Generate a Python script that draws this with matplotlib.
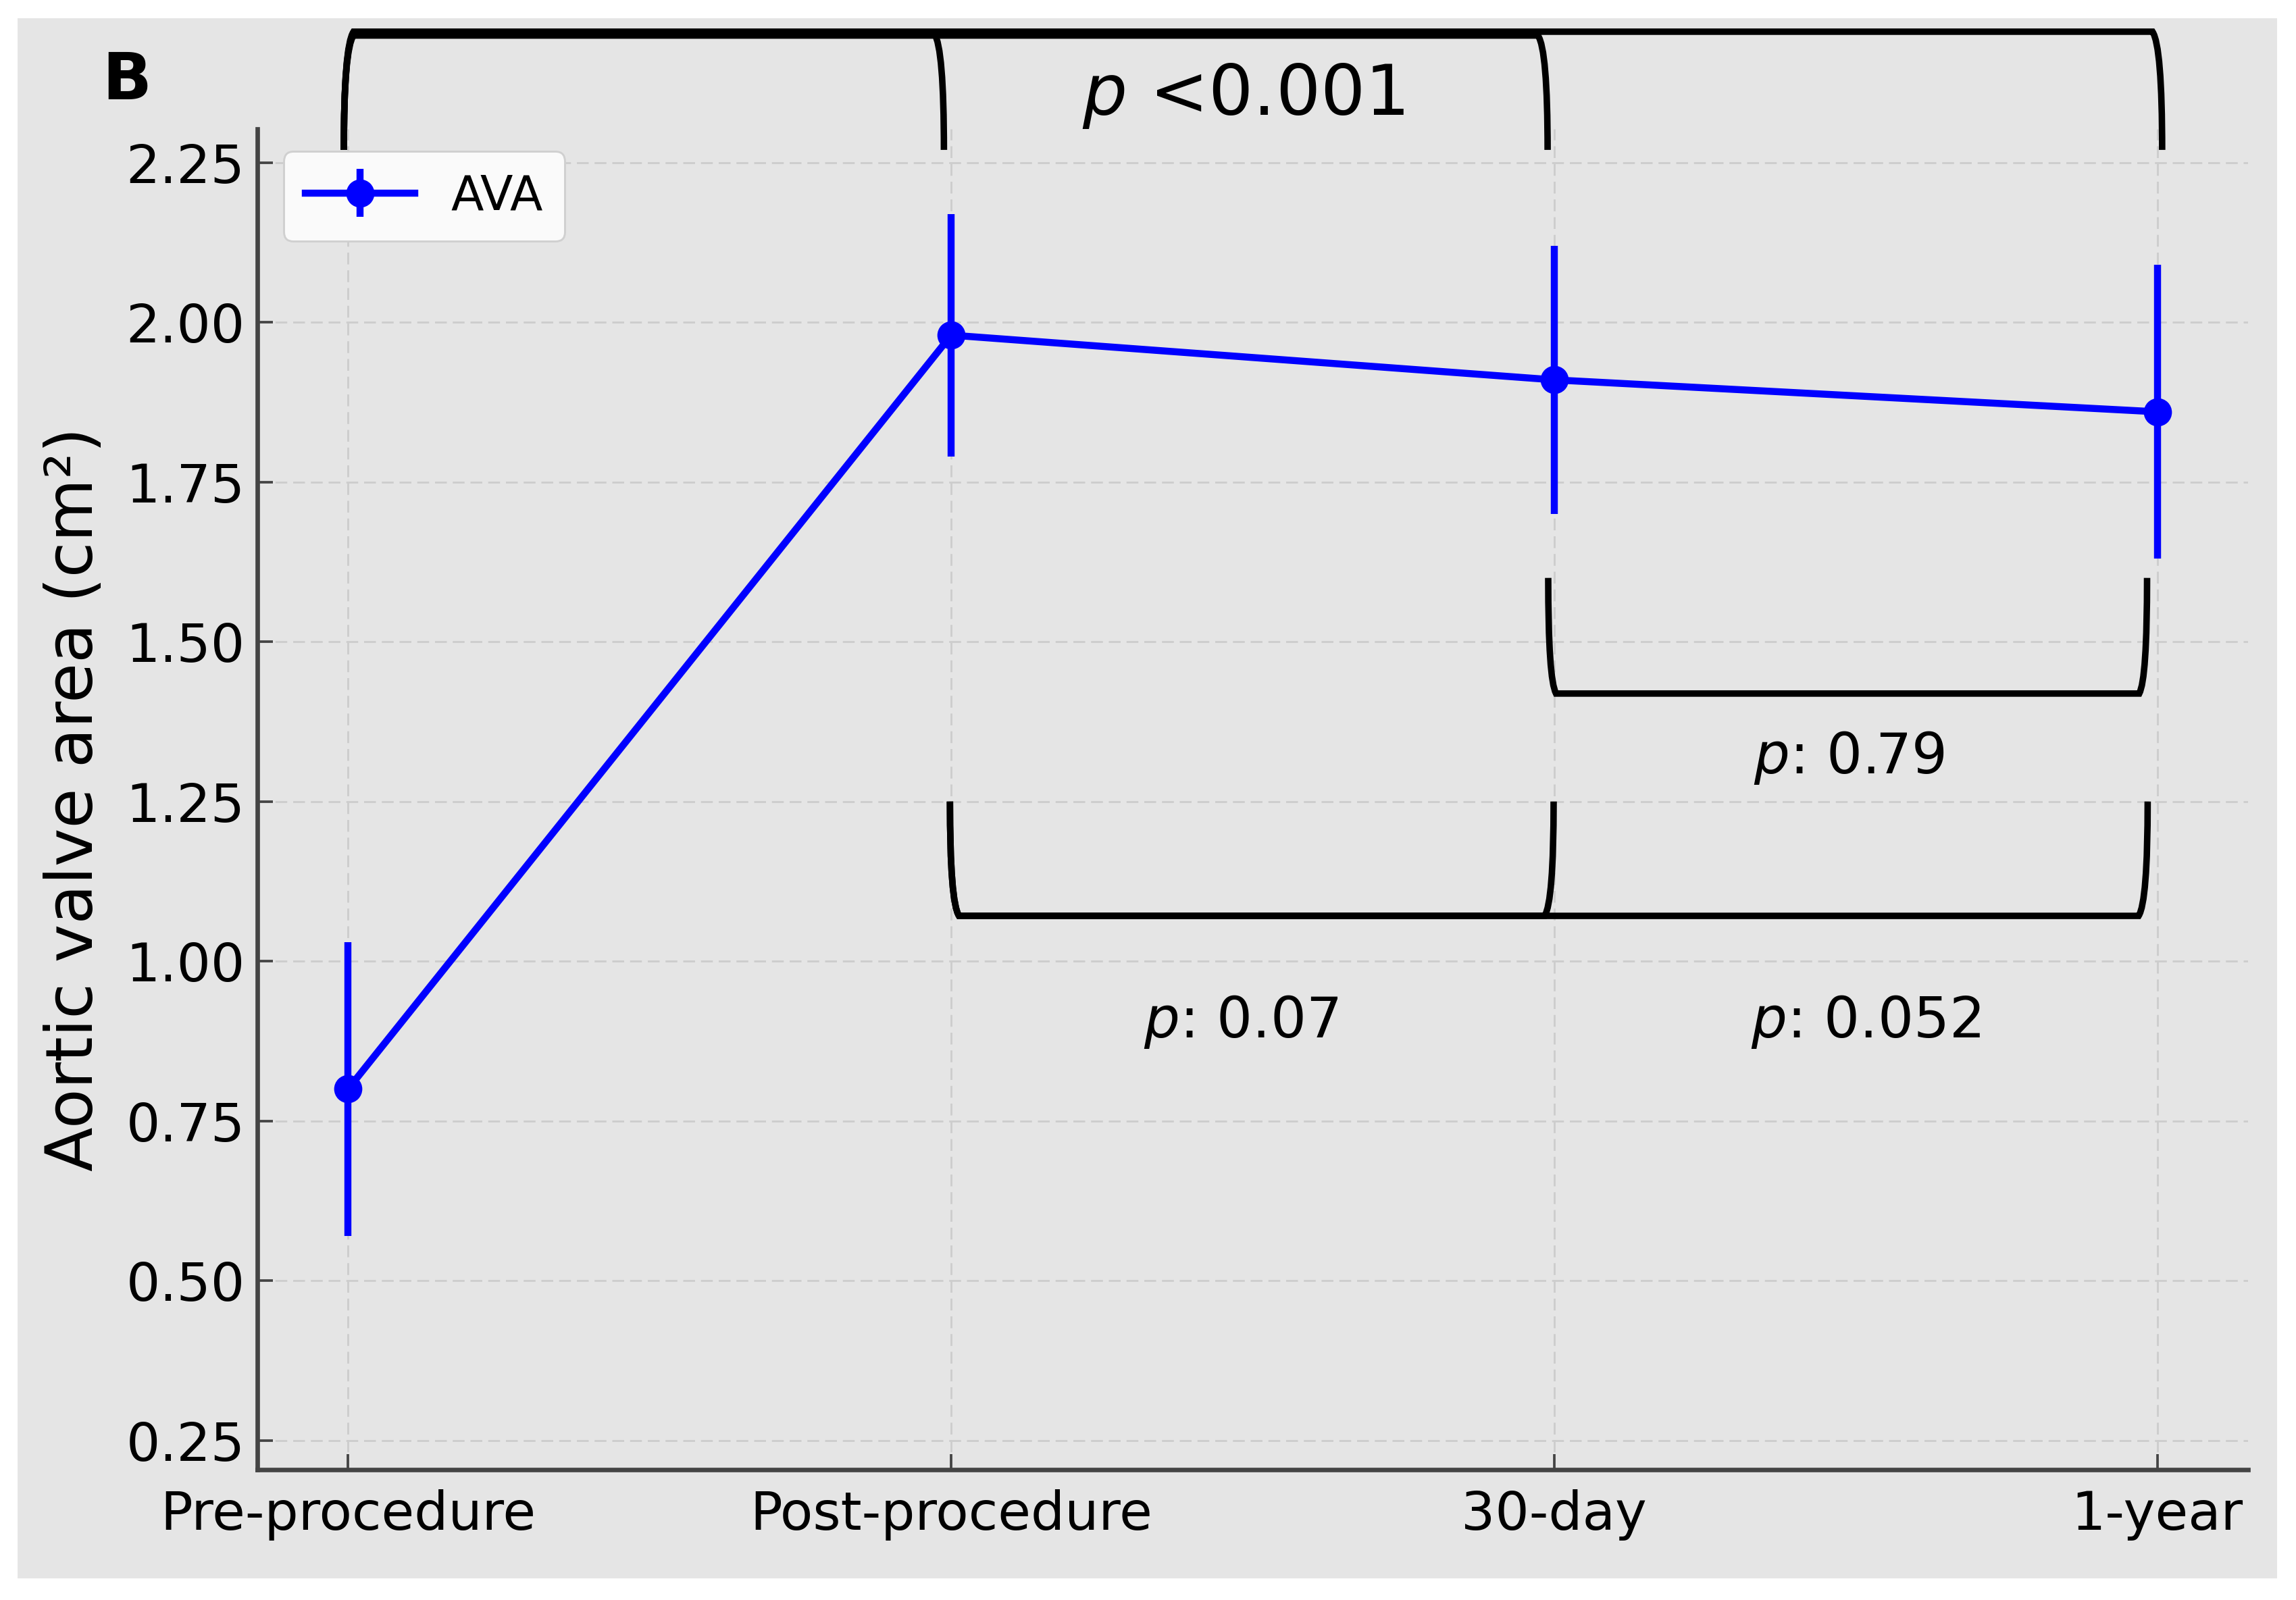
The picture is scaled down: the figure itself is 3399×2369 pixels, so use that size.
import matplotlib
matplotlib.use("Agg")
import matplotlib.pyplot as plt
from matplotlib.path import Path
from matplotlib.patches import PathPatch, Rectangle
import numpy as np

# data
timepoints = ["Pre-procedure", "Post-procedure", "30-day", "1-year"]
ava_mean = [0.80, 1.98, 1.91, 1.86]
ava_sd = [0.23, 0.19, 0.21, 0.23]
yticks = [0.25, 0.50, 0.75, 1.00, 1.25, 1.50, 1.75, 2.00, 2.25]

# comparisons: (from index, to index)
top_pairs = [(0, 1), (0, 2), (0, 3)]       # pre vs every later time point
bottom_pairs = [(1, 2), (1, 3)]            # post vs 30-day / 1-year
short_pairs = [(2, 3)]                     # 30-day vs 1-year
p_top = "$p$ <0.001"
p_short = "$p$: 0.79"
p_bottom = ["$p$: 0.07", "$p$: 0.052"]

BG = "#e5e5e5"
BLUE = "#0000ff"


def bracket(ax, xa, xb, y_free, y_line, d=0.016, lw=2.3):
    """bracket with slightly curved legs; free leg ends at y_free, bar at y_line"""
    k = 0.12 * (y_free - y_line)
    verts = [(xa, y_free), (xa, y_line + k), (xa + d, y_line),
             (xb - d, y_line),
             (xb, y_line + k), (xb, y_free)]
    codes = [Path.MOVETO, Path.CURVE3, Path.CURVE3, Path.LINETO,
             Path.CURVE3, Path.CURVE3]
    ax.add_patch(PathPatch(Path(verts, codes), fill=False, edgecolor="black",
                           lw=lw, clip_on=False, zorder=4,
                           capstyle="butt", joinstyle="miter"))


fig = plt.figure(figsize=(3399 / 300, 2369 / 300), dpi=300, facecolor="white")
fig.patches.append(Rectangle((0.0077, 0.0137), 0.984, 0.975, transform=fig.transFigure,
                             facecolor=BG, edgecolor="none", zorder=-10))
ax = fig.add_axes([0.1122, 0.0814, 0.8668, 0.8381])
ax.set_facecolor(BG)

x = np.arange(len(timepoints))
ax.errorbar(x, ava_mean, yerr=ava_sd, fmt="-o", color=BLUE, lw=2.5, ms=9,
            elinewidth=2.5, capsize=0, label="AVA", zorder=3)

ax.set_xlim(-0.15, 3.15)
ax.set_ylim(0.204, 2.303)
ax.set_xticks(x)
ax.set_xticklabels(timepoints, fontsize=19)
ax.set_yticks(yticks)
ax.set_yticklabels([f"{v:.2f}" for v in yticks], fontsize=19)
ax.tick_params(direction="in", length=5.5, width=0.9, color="#444444")
ax.tick_params(axis="y", pad=4.5)
ax.tick_params(axis="x", pad=7)
ax.grid(True, color="#cdcdcd", lw=0.7, linestyle=(0, (6, 3)))
ax.set_axisbelow(True)
for s in ["top", "right"]:
    ax.spines[s].set_visible(False)
for s in ["left", "bottom"]:
    ax.spines[s].set_color("#444444")
    ax.spines[s].set_linewidth(1.6)

ax.set_ylabel("Aortic valve area (cm²)", fontsize=23)
ax.yaxis.set_label_coords(-0.076, 0.5)

leg = ax.legend(loc="upper left", bbox_to_anchor=(0.013, 0.983), borderaxespad=0,
                fontsize=17, handlelength=2.3, handletextpad=0.75, borderpad=0.45,
                fancybox=True, framealpha=1.0, facecolor="#fafafa", edgecolor="#d0d0d0")
leg.get_frame().set_linewidth(0.7)

# significance brackets: pre-procedure against the three later points
top_right = [0.988, 1.989, 3.008]
top_bar = [2.452, 2.449, 2.455]
for (i, j), xb, yb in zip(top_pairs, top_right, top_bar):
    bracket(ax, i - 0.007, xb, 2.270, yb)
ax.text(1.484, 2.325, p_top, fontsize=25, ha="center", va="baseline")

# 30-day vs 1-year
for (i, j) in short_pairs:
    bracket(ax, i - 0.01, j - 0.017, 1.600, 1.419, d=0.013)
    ax.text((i + j) / 2 - 0.011, 1.294, p_short, fontsize=20, ha="center", va="baseline")

# post-procedure vs 30-day and 1-year
bottom_right = [1.999, 2.984]
label_x = [1.481, 2.517]
for (i, j), xb, lab, lx in zip(bottom_pairs, bottom_right, p_bottom, label_x):
    bracket(ax, i - 0.002, xb, 1.250, 1.071, d=0.015)
    ax.text(lx, 0.881, lab, fontsize=20, ha="center", va="baseline")

fig.text(0.0446, 0.949, "B", fontsize=23, fontweight="bold", ha="left", va="center")

fig.savefig("out.png", dpi=300, facecolor="white")
